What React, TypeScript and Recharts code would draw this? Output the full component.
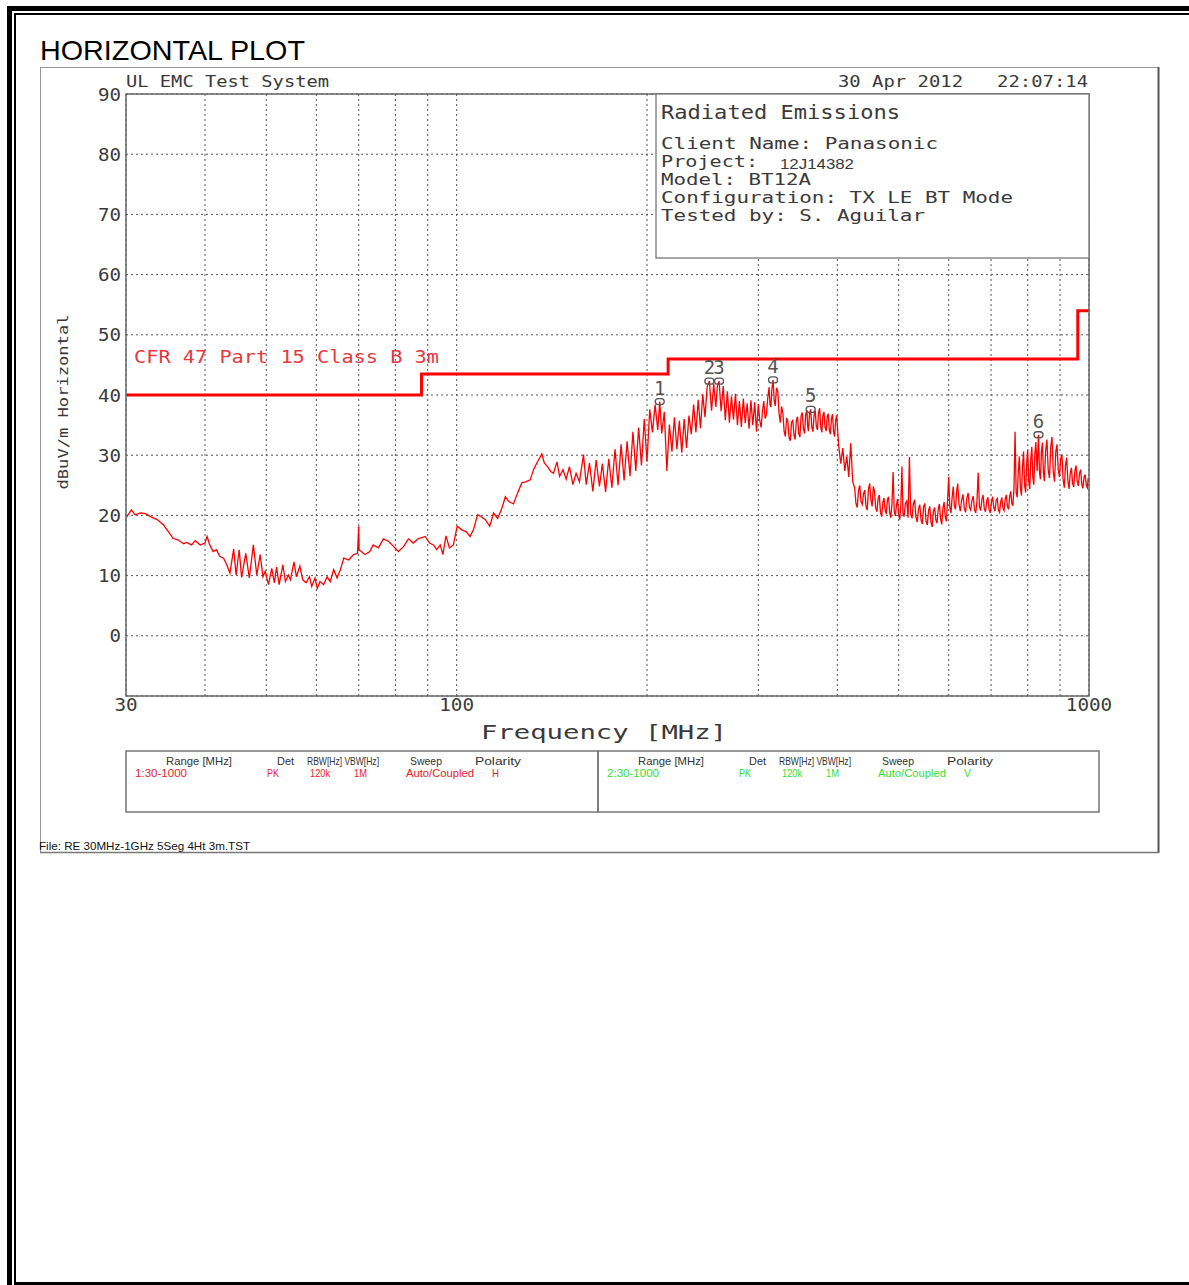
import { CartesianGrid, ComposedChart, Line, Scatter, XAxis, YAxis } from "recharts";

// peak sweep, [MHz, dBuV/m]
const sweep30to70 = [
  [30.0, 19.6], [30.6, 20.9], [31.0, 20.1], [31.6, 20.4], [32.2, 20.3], [32.8, 19.8], [33.6, 19.3],
  [34.4, 18.4], [35.0, 17.3], [35.6, 16.2], [36.3, 15.9], [37.0, 15.3], [37.4, 15.5], [38.1, 15.1],
  [38.6, 15.8], [39.3, 15.1], [40.0, 15.4], [40.3, 16.5], [40.7, 15.1], [41.2, 14.0], [41.7, 14.3],
  [42.2, 13.2], [42.8, 12.9], [43.3, 11.8], [43.8, 10.4], [44.4, 14.4], [44.8, 10.1], [45.3, 14.3],
  [45.7, 9.7], [46.4, 13.7], [47.0, 9.6], [47.7, 15.1], [48.3, 10.1], [48.9, 13.5], [49.4, 9.8],
  [49.8, 10.7], [50.4, 8.5], [51.0, 11.2], [51.5, 8.8], [51.9, 11.4], [52.4, 8.5], [53.1, 11.8],
  [53.6, 9.0], [54.2, 10.1], [54.6, 9.3], [55.3, 12.3], [55.8, 9.8], [56.5, 11.6], [57.1, 9.3],
  [57.8, 8.8], [58.5, 9.8], [59.0, 8.2], [59.7, 9.6], [60.2, 7.9], [60.8, 9.0], [61.6, 8.5],
  [62.4, 9.8], [63.1, 9.0], [63.9, 11.0], [64.7, 9.6], [65.5, 11.0], [66.3, 12.9], [67.5, 12.6],
  [68.7, 13.5], [69.7, 13.7], [70.0, 18.2], [70.1, 14.3],
];

const sweep70to170 = [
  [71.6, 13.5], [72.9, 14.0], [73.8, 15.1], [75.2, 14.6], [76.6, 16.1], [78.0, 15.7], [79.4, 14.9],
  [80.9, 14.0], [82.4, 14.8], [83.9, 16.1], [85.4, 15.4], [86.9, 16.1], [89.2, 16.5], [90.6, 15.4],
  [91.9, 15.1], [93.0, 14.3], [94.2, 15.1], [95.1, 13.5], [96.2, 16.6], [97.4, 14.6], [98.8, 15.1],
  [100.2, 18.2], [101.9, 17.6], [103.5, 17.3], [105.0, 16.5], [106.3, 17.6], [107.9, 20.1],
  [109.7, 19.7], [111.0, 19.3], [112.8, 18.2], [114.4, 20.4], [116.1, 19.5], [117.9, 21.2],
  [119.4, 23.1], [120.9, 22.3], [123.0, 21.9], [124.8, 23.7], [126.8, 25.4], [128.8, 25.6],
  [130.7, 25.9], [132.3, 27.6], [133.9, 28.7], [136.4, 30.2], [137.6, 28.7], [139.2, 28.1],
  [140.9, 27.3], [142.3, 27.0], [144.1, 28.9], [145.5, 26.5], [147.3, 27.6], [149.0, 26.0],
  [150.8, 28.1], [152.7, 25.1], [154.5, 27.0], [156.4, 25.6], [158.7, 30.1], [160.3, 25.1],
  [162.2, 28.7], [164.2, 24.0], [166.2, 29.2], [168.2, 24.8],
];

const sweep170to300 = [
  [170, 28.6], [172, 23.9], [174, 29.4], [176, 24.6], [178, 31.0], [180, 25.0], [182, 31.8],
  [184, 25.8], [186, 32.3], [188, 26.5], [190, 33.9], [192, 27.4], [194, 34.6], [196, 28.3],
  [198, 36.0], [200, 28.9], [202, 37.6], [204, 33.8], [206, 38.4], [208, 34.2], [209.5, 38.9],
  [211, 33.6], [213, 37.2], [215, 27.4], [217, 35.1], [219, 30.6], [221, 36.3], [223, 31.0],
  [225, 35.7], [227, 30.4], [229, 36.0], [231, 31.2], [233, 36.6], [235, 33.5], [237, 38.4],
  [239, 33.8], [241, 39.2], [243, 34.5], [245, 40.1], [247, 36.3], [249, 41.4], [251, 42.3],
  [253, 37.4], [255, 41.8], [257, 38.0], [258.5, 41.6], [260, 42.3], [262, 37.3], [264, 41.5],
  [266, 35.8], [268, 40.6], [270, 35.4], [272, 39.8], [274, 35.9], [276, 40.2], [278, 35.0],
  [280, 39.0], [282, 34.7], [284, 39.4], [286, 35.3], [288, 38.6], [290, 34.4], [292, 39.1],
  [294, 35.0], [296, 38.8], [298, 33.9],
];

const sweep300to425 = [
  [300, 38.5], [301.5, 35.8], [303, 34.6], [304.5, 37.3], [306, 39.0], [307.5, 36.1], [309, 36.8],
  [310.5, 39.6], [312, 41.3], [313, 38.4], [314, 38.0], [315.2, 41.0], [316.5, 42.5], [317.8, 39.1],
  [319, 38.2], [320.5, 41.2], [322, 40.6], [323.5, 36.9], [325, 35.4], [326.5, 38.1], [328, 37.0],
  [329.5, 34.0], [331, 33.1], [332.5, 36.2], [334, 35.6], [335.5, 32.9], [337, 32.4], [338.5, 35.4],
  [340, 35.9], [341.5, 33.4], [343, 32.6], [344.5, 35.8], [346, 36.4], [347.5, 33.6], [349, 33.0],
  [350.5, 36.5], [352, 37.1], [353.5, 34.4], [355, 33.6], [356.5, 36.8], [358, 37.5], [359, 34.8],
  [360, 34.0], [361.5, 36.9], [363, 37.6], [364.5, 34.6], [366, 33.9], [367.5, 36.7], [369, 37.4],
  [370.5, 34.8], [372, 34.2], [373.5, 37.1], [375, 37.8], [376.5, 34.7], [378, 33.8], [379.5, 36.6],
  [381, 37.2], [382.5, 34.6], [384, 34.0], [385.5, 36.4], [387, 36.9], [388.5, 34.2], [390, 33.5],
  [391.5, 36.1], [393, 36.8], [394.5, 33.9], [396, 33.1], [397.5, 35.8], [399, 36.6], [402, 31.5],
  [405, 28.6], [408, 31.2], [411, 27.4], [414, 29.8], [417, 26.4], [420, 32.0], [423, 25.6],
];

const sweep425to700 = [
  [426, 24.6], [428, 22.0], [430, 21.3], [432, 24.1], [434, 25.0], [436, 22.3], [438, 21.8],
  [440, 23.6], [442, 24.2], [444, 21.5], [446, 20.9], [448, 24.4], [450, 25.3], [452, 22.6],
  [454, 21.5], [456, 24.8], [458, 23.9], [460, 21.2], [462, 20.6], [464, 22.8], [466, 23.4],
  [468, 20.5], [470, 19.8], [472, 22.1], [474, 22.9], [476, 20.9], [478, 20.2], [480, 22.6],
  [482, 23.1], [484, 20.4], [486, 19.6], [488, 22.0], [490, 27.2], [492, 20.8], [494, 19.9],
  [496, 21.7], [498, 22.7], [500, 20.1], [502, 19.3], [504, 21.6], [506, 28.1], [508, 20.3],
  [510, 19.8], [512.5, 22.0], [515, 22.4], [517.5, 19.6], [520, 29.7], [522.5, 20.2], [525, 19.5],
  [527.5, 21.9], [530, 22.6], [532.5, 19.7], [535, 18.9], [537.5, 21.1], [540, 21.8], [542.5, 19.2],
  [545, 18.6], [547.5, 21.4], [550, 22.0], [552.5, 19.0], [555, 18.4], [557.5, 20.8], [560, 21.5],
  [562.5, 18.9], [565, 18.1], [567.5, 20.7], [570, 21.3], [572.5, 19.3], [575, 18.7], [577.5, 21.0],
  [580, 21.9], [582.5, 19.4], [585, 18.5], [587.5, 21.2], [590, 22.2], [592.5, 19.8], [595, 19.0],
  [597.5, 22.5], [600, 26.4], [602.5, 21.3], [605, 20.4], [607.5, 23.0], [610, 24.8], [612.5, 21.6],
  [615, 21.0], [617.5, 23.9], [620, 25.3], [623, 21.8], [626, 20.7], [629, 22.6], [632, 23.5],
  [635, 21.2], [638, 20.5], [641, 22.9], [644, 23.7], [647, 21.4], [650, 20.9], [653, 22.5],
  [656, 23.2], [659, 21.0], [662, 20.4], [665, 22.3], [668, 27.1], [671, 21.5], [674, 20.8],
  [677, 22.6], [680, 23.4], [683, 21.1], [686, 20.6], [689, 22.4], [692, 23.0], [695, 21.0],
  [698, 20.4],
];

const sweep700to1000 = [
  [701, 22.2], [704, 23.1], [707, 21.3], [710, 20.7], [713, 22.5], [716, 22.8], [719, 20.9],
  [722, 20.5], [725, 22.2], [728, 23.0], [731, 21.2], [734, 20.8], [737, 22.7], [740, 23.4],
  [743, 21.5], [746, 21.0], [749, 23.1], [752, 24.0], [755, 22.0], [758, 21.6], [761, 24.6],
  [764, 33.9], [767, 23.8], [770, 23.0], [773, 27.2], [776, 29.8], [779, 24.5], [782, 23.3],
  [785, 28.1], [788, 30.6], [791, 25.0], [794, 23.8], [797, 28.7], [800, 30.9], [803, 25.6],
  [806, 24.4], [809, 29.3], [812, 31.4], [815, 26.3], [818, 25.1], [821, 30.2], [824, 32.2],
  [828, 27.4], [832, 33.4], [835, 27.1], [838, 26.0], [841, 30.6], [844, 32.1], [847, 27.3],
  [850, 25.7], [854, 30.8], [858, 32.6], [862, 27.5], [866, 26.2], [870, 31.4], [874, 33.0],
  [878, 27.2], [882, 25.6], [886, 30.5], [890, 31.8], [894, 27.6], [898, 26.4], [902, 29.4],
  [906, 30.1], [910, 26.0], [914, 24.6], [918, 28.3], [922, 29.6], [926, 25.7], [930, 24.4],
  [934, 27.0], [938, 27.9], [942, 25.3], [946, 24.7], [950, 27.4], [954, 28.3], [958, 25.6],
  [962, 24.9], [966, 27.0], [970, 27.6], [974, 25.2], [978, 24.5], [982, 26.3], [986, 26.8],
  [990, 25.0], [994, 24.6], [997, 26.2], [1000, 25.6],
];

// CFR 47 Part 15 Class B 3m limit, step starts
const limitSteps = [[30, 40], [88, 43.5], [216, 46], [960, 54], [1000, 54]];

const markerFreqs = [209.5, 251, 260, 316.5, 363, 832];
const markerLevels = [38.9, 42.3, 42.3, 42.5, 37.6, 33.4];

const freqTicks = [30, 40, 50, 60, 70, 80, 90, 100, 200, 300, 400, 500, 600, 700, 800, 900, 1000];
const freqLabels = [30, 100, 1000];
const levelTicks = [-10, 0, 10, 20, 30, 40, 50, 60, 70, 80, 90];

const toPoints = (rows: number[][]) => rows.map(([f, v]) => ({ f, v }));

const trace = toPoints([
  ...sweep30to70, ...sweep70to170, ...sweep170to300,
  ...sweep300to425, ...sweep425to700, ...sweep700to1000,
]);
const limit = toPoints(limitSteps);
const markers = markerFreqs.map((f, i) => ({ f, v: markerLevels[i], n: i + 1 }));

const W = 1189;
const H = 1285;
const PLOT = { left: 126, top: 94, right: 1089, bottom: 696 };

const MONO = "DejaVu Sans Mono";
const SANS = "'Liberation Sans', Arial";
const INK = "#3a3a3a";

const FreqTick = (props: any) => {
  const { x, payload } = props;
  if (!freqLabels.includes(payload.value)) return <g />;
  const s = String(payload.value);
  return (
    <text x={x} y={711} textAnchor="middle" fontFamily={MONO} fontSize={17} fill={INK}
      textLength={11.6 * s.length} lengthAdjust="spacingAndGlyphs">
      {s}
    </text>
  );
};

const LevelTick = (props: any) => {
  const { y, payload } = props;
  if (payload.value < 0) return <g />;
  const s = String(payload.value);
  return (
    <text x={PLOT.left - 5} y={y + 6.5} textAnchor="end" fontFamily={MONO} fontSize={17} fill={INK}
      textLength={11.5 * s.length} lengthAdjust="spacingAndGlyphs">
      {s}
    </text>
  );
};

const MarkerShape = (props: any) => {
  const { cx, cy, payload } = props;
  return (
    <g>
      <rect x={cx - 4.5} y={cy - 3} width={9} height={6} rx={3} fill="none" stroke="#555" strokeWidth={1.3} />
      <text x={cx} y={cy - 7} textAnchor="middle" fontFamily={MONO} fontSize={19} fill="#555">
        {payload.n}
      </text>
    </g>
  );
};

const T = ({ x, y, w, size = 16, children, fill = INK, family = MONO, anchor = "start", transform }: any) => (
  <text x={x} y={y} fontFamily={family} fontSize={size} fill={fill} textAnchor={anchor}
    textLength={w} lengthAdjust="spacingAndGlyphs" transform={transform}>
    {children}
  </text>
);

const tableHead = [
  ["Range [MHz]", 40, 66],
  ["Det", 151, 17],
  ["RBW[Hz] VBW[Hz]", 181, 72],
  ["Sweep", 284, 32],
  ["Polarity", 349, 46],
];

const tableRow = (id: string, pol: string) => [
  [id, 9, 52],
  ["PK", 141, 12],
  ["120k", 184, 20],
  ["1M", 228, 13],
  ["Auto/Coupled", 280, 68],
  [pol, 366, 7],
];

const SettingsBox = ({ x, w, id, pol, color }: any) => (
  <g>
    <rect x={x} y={751} width={w} height={61} fill="none" stroke="#777" strokeWidth={1.5} />
    {tableHead.map(([s, dx, tw]: any) => (
      <T key={s} x={x + dx} y={765} w={tw} size={11} family={SANS} fill="#333">{s}</T>
    ))}
    {tableRow(id, pol).map(([s, dx, tw]: any) => (
      <T key={s} x={x + dx} y={777} w={tw} size={11} family={SANS} fill={color}>{s}</T>
    ))}
  </g>
);

const bar = (left: number, top: number, width: number, height: number) => ({
  position: "absolute" as const, left, top, width, height, background: "#000",
});

export default function App() {
  return (
    <div style={{ position: "absolute", left: 0, top: 0, width: W, height: H, background: "#fff", overflow: "hidden" }}>
      <div style={{ position: "absolute", left: 0, top: 0 }}>
        <ComposedChart width={W} height={H} margin={{ top: 94, right: 100, bottom: 559, left: 86 }}>
          <CartesianGrid stroke="#555" strokeDasharray="2 3" strokeWidth={1} />
          <XAxis dataKey="f" type="number" scale="log" domain={[30, 1000]} ticks={freqTicks}
            allowDataOverflow interval={0} axisLine={false} tickLine={false} height={30} tick={<FreqTick />} />
          <YAxis type="number" domain={[-10, 90]} ticks={levelTicks} allowDataOverflow interval={0}
            axisLine={false} tickLine={false} width={40} tick={<LevelTick />} />
          <Line data={limit} dataKey="v" type="stepAfter" stroke="#ff0000" strokeWidth={3}
            dot={false} isAnimationActive={false} />
          <Line data={trace} dataKey="v" type="linear" stroke="#ff0000" strokeWidth={1.3}
            dot={false} isAnimationActive={false} />
          <Scatter data={markers} dataKey="v" shape={<MarkerShape />} isAnimationActive={false} />
        </ComposedChart>
      </div>

      <svg width={W} height={H} style={{ position: "absolute", left: 0, top: 0, pointerEvents: "none" }}>
        <text x={40} y={60} fontFamily={SANS} fontSize={28} fill="#000"
          textLength={265} lengthAdjust="spacingAndGlyphs">HORIZONTAL PLOT</text>

        <rect x={40.5} y={67.5} width={1118} height={785} fill="none" stroke="#999" strokeWidth={1} />
        <line x1={1158.5} y1={67} x2={1158.5} y2={853} stroke="#555" strokeWidth={2} />
        <line x1={40} y1={852.5} x2={1159} y2={852.5} stroke="#777" strokeWidth={1.5} />

        <rect x={PLOT.left} y={PLOT.top} width={PLOT.right - PLOT.left} height={PLOT.bottom - PLOT.top}
          fill="none" stroke="#666" strokeWidth={1.5} />

        <T x={126} y={87} w={203}>UL EMC Test System</T>
        <T x={838} y={87} w={125}>30 Apr 2012</T>
        <T x={997} y={87} w={91}>22:07:14</T>

        <rect x={656} y={94} width={433} height={164} fill="#fff" stroke="#777" strokeWidth={1.3} />
        <T x={661} y={119} w={239} size={20}>Radiated Emissions</T>
        <T x={661} y={149} w={277}>Client Name: Panasonic</T>
        <T x={661} y={167} w={97}>Project:</T>
        <T x={780} y={169} w={74} size={15} family={SANS}>12J14382</T>
        <T x={661} y={185} w={150}>Model: BT12A</T>
        <T x={661} y={203} w={352}>Configuration: TX LE BT Mode</T>
        <T x={661} y={221} w={264}>Tested by: S. Aguilar</T>

        <T x={134} y={363} w={305} size={17} fill="#e8383d">CFR 47 Part 15  Class B 3m</T>

        <T x={68} y={402} w={175} size={14} anchor="middle" transform="rotate(-90 68 402)">dBuV/m Horizontal</T>

        <T x={481} y={739} w={246} size={19}>Frequency [MHz]</T>

        <SettingsBox x={126} w={472} id="1:30-1000" pol="H" color="#e8232b" />
        <SettingsBox x={598} w={501} id="2:30-1000" pol="V" color="#33dd33" />

        <T x={39} y={850} w={211} size={11} family={SANS} fill="#111">File: RE 30MHz-1GHz 5Seg 4Ht 3m.TST</T>
      </svg>

      <div style={bar(7, 6, W - 7, 5)} />
      <div style={bar(14, 13, W - 14, 2)} />
      <div style={bar(7, 6, 5, H - 6)} />
      <div style={bar(14, 13, 2, H - 16)} />
      <div style={bar(14, 1282, W - 14, 3)} />
    </div>
  );
}
